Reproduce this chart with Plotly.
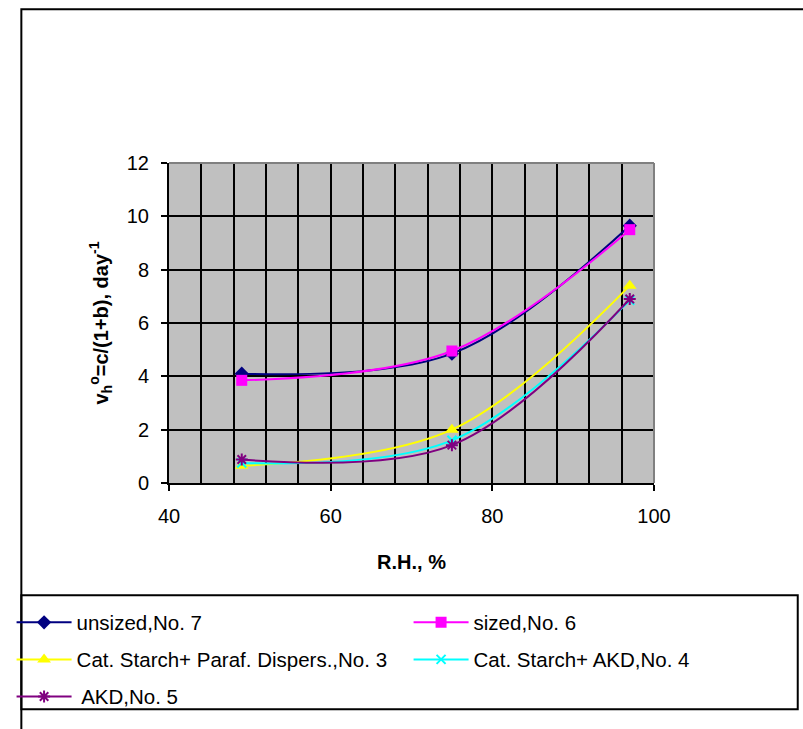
import plotly.graph_objects as go

# ---- data ----
rh = [49, 75, 97]
unsized_no7 = [4.1, 4.85, 9.65]
sized_no6 = [3.85, 4.95, 9.5]
starch_paraf_no3 = [0.65, 2.0, 7.4]
starch_akd_no4 = [0.75, 1.6, 6.85]
akd_no5 = [0.88, 1.42, 6.9]

names = ["unsized,No. 7", "sized,No. 6", "Cat. Starch+ Paraf. Dispers.,No. 3",
         "Cat. Starch+ AKD,No. 4", " AKD,No. 5"]
series = [unsized_no7, sized_no6, starch_paraf_no3, starch_akd_no4, akd_no5]
colors = ["#000080", "#FF00FF", "#FFFF00", "#00FFFF", "#800080"]
symbols = ["diamond", "square", "triangle-up", "x-thin-open", "asterisk-open"]
msizes = [11, 11, 12, 9, 10]

W, H = 803, 729
PL, PR, PT, PB = 158, 654, 163, 491  # plot area in px


def px_x(p):
    return (p - PL) / (PR - PL)


def px_y(p):
    return (PB - p) / (PB - PT)


# legend slot for each series (column px, row centre px)
leg_slots = [(-3, 634), (403, 634), (-3, 672), (403, 672), (-3, 710)]
legend_ids = ["legend", "legend2", "legend3", "legend4", "legend5"]

fig = go.Figure()
for name, ys, c, s, ms, lg in zip(names, series, colors, symbols, msizes, legend_ids):
    open_sym = s.endswith("open")
    fig.add_trace(go.Scatter(
        x=rh, y=ys, name=name, mode="lines+markers",
        line=dict(color=c, width=2, shape="spline", smoothing=1),
        marker=dict(symbol=s, size=ms, color=c,
                    line=dict(color=c, width=2 if open_sym else 0)),
        legend=lg,
    ))

font_family = "Liberation Sans, Arial, sans-serif"
leg_font = dict(family="Liberation Sans, Arial", size=20.5, color="black")

legends = {}
for lg, (lx, ly) in zip(legend_ids, leg_slots):
    legends[lg] = dict(orientation="h", xanchor="left", yanchor="middle",
                       x=px_x(lx), y=px_y(ly), bgcolor="rgba(0,0,0,0)", borderwidth=0,
                       font=leg_font, itemwidth=55,
                       itemclick=False, itemdoubleclick=False)

fig.update_layout(
    width=W, height=H,
    margin=dict(l=PL, r=W - PR, t=PT, b=H - PB, pad=0),
    paper_bgcolor="white", plot_bgcolor="#C0C0C0",
    font=dict(family=font_family, size=20, color="black"),
    showlegend=True,
    **legends,
    xaxis=dict(range=[40, 100], dtick=20, tick0=40, showgrid=True,
               gridcolor="black", gridwidth=2,
               minor=dict(dtick=4, tick0=40, showgrid=True, gridcolor="black", gridwidth=2, ticks=""),
               ticks="outside", ticklen=6, tickwidth=2, tickcolor="black",
               ticklabelstandoff=8,
               showline=True, linecolor="black", linewidth=2, zeroline=False,
               automargin=False,
               title=dict(text="<b>R.H., %</b>", font=dict(size=20), standoff=29)),
    yaxis=dict(range=[0, 12], dtick=2, showgrid=True, gridcolor="black", gridwidth=2,
               ticks="outside", ticklen=6, tickwidth=2, tickcolor="black",
               ticklabelstandoff=8,
               showline=True, linecolor="black", linewidth=2, zeroline=False,
               automargin=False,
               title=dict(text="<b>v<sub>h</sub><sup>o</sup>=c/(1+b), day<sup>-1</sup></b>",
                          font=dict(size=20), standoff=13)),
    shapes=[
        # plot area top/right border (gray)
        dict(type="line", xref="paper", yref="paper", x0=0, x1=1, y0=1, y1=1,
             line=dict(color="#808080", width=2), layer="above"),
        dict(type="line", xref="paper", yref="paper", x0=1, x1=1, y0=0, y1=1,
             line=dict(color="#808080", width=2), layer="above"),
        # outer chart border
        dict(type="rect", xref="paper", yref="paper",
             x0=px_x(7), x1=px_x(815), y0=px_y(745), y1=px_y(5.5),
             line=dict(color="black", width=2), fillcolor="rgba(0,0,0,0)"),
        # legend box
        dict(type="rect", xref="paper", yref="paper",
             x0=px_x(7), x1=px_x(801), y0=px_y(723), y1=px_y(606),
             line=dict(color="black", width=2), fillcolor="rgba(0,0,0,0)"),
    ],
)

fig.write_html("out.html")
